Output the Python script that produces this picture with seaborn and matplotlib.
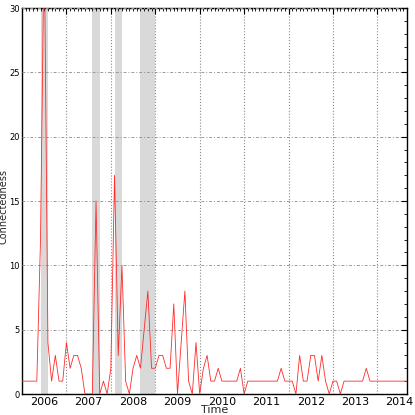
import matplotlib
matplotlib.use("Agg")
import matplotlib.pyplot as plt
import seaborn as sns
import numpy as np
import pandas as pd
from matplotlib.ticker import MultipleLocator, FixedLocator, FuncFormatter, NullFormatter
from matplotlib import font_manager

# ---------------- data ----------------
start_year = 2005.5          # first monthly observation (decimal year)
values = [1, 1, 1, 1, 1, 12, 36, 4, 1, 3,
          1, 1, 4, 2, 3, 3, 2, 0, 0, 0,
          15, 0, 1, 0, 2, 17, 3, 10, 1, 0,
          2, 3, 2, 5, 8, 2, 2, 3, 3, 2,
          2, 7, 0, 4, 8, 1, 0, 4, 0, 2,
          3, 1, 1, 2, 1, 1, 1, 1, 1, 2,
          0, 1, 1, 1, 1, 1, 1, 1, 1, 1,
          2, 1, 1, 1, 0, 3, 1, 1, 3, 3,
          1, 3, 1, 0, 1, 1, 0, 1, 1, 1,
          1, 1, 1, 2, 1, 1, 1, 1, 1, 1,
          1, 1, 1, 1, 1]
shade_starts = [2005.917, 2007.083, 2007.583, 2008.167]
shade_ends = [2006.083, 2007.250, 2007.750, 2008.500]
year_labels = [2006, 2007, 2008, 2009, 2010, 2011, 2012, 2013, 2014]

time = [start_year + i / 12 for i in range(len(values))]
df = pd.DataFrame({"Time": time, "Connectedness": values})

# ---------------- style ----------------
sns.set_style("white")
avail = {f.name for f in font_manager.fontManager.ttflist}
narrow = "Liberation Sans Narrow" if "Liberation Sans Narrow" in avail else "DejaVu Sans"
plt.rcParams["font.family"] = [narrow, "DejaVu Sans"]

fig = plt.figure(figsize=(4.15, 4.15), dpi=100)
ax = fig.add_axes([22 / 415, 1 - 394 / 415, 385 / 415, 386 / 415])

for s, e in zip(shade_starts, shade_ends):
    ax.axvspan(s, e, color="#d9d9d9", lw=0, zorder=0)

sns.lineplot(data=df, x="Time", y="Connectedness", ax=ax, color="#ff2a2a",
             lw=0.6, zorder=3)

ax.set_xlim(time[0], time[-1])
ax.set_ylim(0, 30)

# y axis ticks
ax.yaxis.set_major_locator(MultipleLocator(5))
ax.yaxis.set_minor_locator(MultipleLocator(1))

# x axis: major ticks (gridlines) at mid-year, minor ticks monthly, labels at years
first = int(np.floor(time[0]))
mid_years = [y + 0.5 for y in range(first, int(time[-1]) + 1) if time[0] < y + 0.5 < time[-1]]
ax.xaxis.set_major_locator(FixedLocator(mid_years))
ax.xaxis.set_major_formatter(NullFormatter())
months = [time[0] + k / 12 for k in range(len(values))]
ax.xaxis.set_minor_locator(FixedLocator(months))
ax.xaxis.set_minor_formatter(FuncFormatter(
    lambda v, p: str(int(round(v))) if abs(v - round(v)) < 1e-3 and int(round(v)) in year_labels else ""))

ax.tick_params(axis="both", which="both", direction="in", top=True, right=True,
               colors="black")
ax.tick_params(axis="x", which="both", labelsize=8, pad=2)
ax.tick_params(axis="y", which="both", labelsize=6, pad=1.5)
ax.tick_params(axis="both", which="major", length=4, width=0.8)
ax.tick_params(axis="both", which="minor", length=2, width=0.6)
for t in ax.get_yticklabels():
    t.set_family(["DejaVu Sans"])

ax.grid(False)
ax.xaxis.grid(True, which="major", color="#888888", linestyle=":", lw=0.8)
ax.yaxis.grid(True, which="major", color="#999999", linestyle=(0, (3, 2, 1, 2)), lw=0.7)
ax.set_axisbelow(False)

for sp in ax.spines.values():
    sp.set_color("black")
    sp.set_linewidth(1.0)

ax.set_xlabel("Time", fontsize=8, labelpad=-1)
ax.set_ylabel("Connectedness", fontsize=7, family=["DejaVu Sans"])
ax.yaxis.set_label_coords(-0.0338, 0.485)

fig.savefig("out.png", dpi=100)
